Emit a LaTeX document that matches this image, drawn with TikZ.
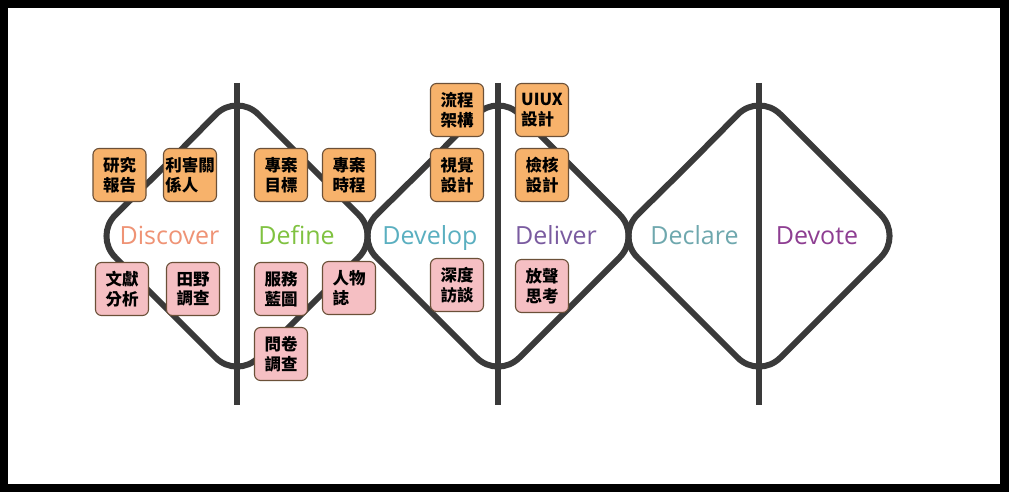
\documentclass[tikz,border=0pt]{standalone}
\usepackage{fontspec}
\setmainfont{Open Sans}
\newfontfamily\cjk{Noto Sans CJK TC}
\definecolor{linegray}{HTML}{3A3A3A}
\definecolor{boxorange}{HTML}{F7B26B}
\definecolor{boxpink}{HTML}{F5BFC3}
\definecolor{boxedge}{HTML}{6B5038}
\definecolor{cdiscover}{HTML}{EF9375}
\definecolor{cdefine}{HTML}{80C241}
\definecolor{cdevelop}{HTML}{5AAFC0}
\definecolor{cdeliver}{HTML}{7A5BA0}
\definecolor{cdeclare}{HTML}{6FA8AE}
\definecolor{cdevote}{HTML}{8E3E92}
\begin{document}
\begin{tikzpicture}[x=1pt,y=-1pt,
  diam/.style={draw=linegray,line width=6pt,rounded corners=30pt},
  vline/.style={draw=linegray,line width=6pt},
  card/.style={rounded corners=6pt,draw=boxedge,line width=1.1pt,minimum width=53pt,minimum height=53pt,inner sep=0pt,align=left,font=\cjk\bfseries\fontsize{16.5}{19.5}\selectfont,text=black},
  ocard/.style={card,fill=boxorange},
  pcard/.style={card,fill=boxpink},
  phase/.style={anchor=base,font=\fontsize{25}{30}\selectfont,inner sep=0pt}]
\fill[black] (0,0) rectangle (1009,492);
\fill[white] (8,8) rectangle (1000,484);
\useasboundingbox (0,0) rectangle (1009,492);
% diamonds
\foreach \cx/\nm in {237/da,498/db,759/dc}{
  \draw[diam] (\cx-71,165) -- (\cx,93) -- (\cx+143,236) -- (\cx,379) -- (\cx-143,236) -- cycle;
}
% vertical lines
\coordinate (t1) at (237,83); \coordinate (b1) at (237,405);
\coordinate (t2) at (498,83); \coordinate (b2) at (498,405);
\coordinate (t3) at (759,83); \coordinate (b3) at (759,405);
\draw[vline] (t1) -- (b1);
\draw[vline] (t2) -- (b2);
\draw[vline] (t3) -- (b3);
% phase labels
\node[phase,text=cdiscover] (discover) at (169.5,244) {Discover};
\node[phase,text=cdefine] (define) at (296.5,244) {Define};
\node[phase,text=cdevelop] (develop) at (430,244) {Develop};
\node[phase,text=cdeliver] (deliver) at (556,244) {Deliver};
\node[phase,text=cdeclare] (declare) at (694.5,244) {Declare};
\node[phase,text=cdevote] (devote) at (817,244) {Devote};
% cards
\node[ocard] (yj) at (119.5,175) {研究\\報告};
\node[ocard] (lh) at (190,175) {利害關\\係人};
\node[ocard] (mb) at (281,175) {專案\\目標};
\node[ocard] (sc) at (349,175) {專案\\時程};
\node[pcard] (wx) at (122,289) {文獻\\分析};
\node[pcard] (ty) at (193,289) {田野\\調查};
\node[pcard] (fw) at (281,289) {服務\\藍圖};
\node[pcard] (rw) at (349,288) {人物\\誌};
\node[pcard] (wj) at (281,354) {問卷\\調查};
\node[ocard] (lc) at (457,110) {流程\\架構};
\node[ocard] (sj) at (457,175) {視覺\\設計};
\node[ocard] (ui) at (542,110) {UIUX\\設計};
\node[ocard] (jh) at (542,175) {檢核\\設計};
\node[pcard] (sd) at (457,285) {深度\\訪談};
\node[pcard] (fs) at (542,286) {放聲\\思考};
\end{tikzpicture}
\end{document}
